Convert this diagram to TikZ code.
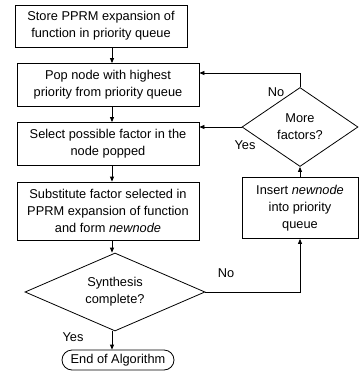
\documentclass[tikz,border=0pt]{standalone}
\usepackage{fontspec}
\setmainfont{Liberation Sans}
\usetikzlibrary{arrows.meta,shapes.geometric}
\begin{document}
\begin{tikzpicture}[x=1pt,y=-1pt,
  every node/.style={font=\fontsize{12.8}{17}\selectfont, inner sep=0pt},
  procbox/.style={draw, line width=0.8pt, rectangle, align=center},
  decbox/.style={draw, line width=0.8pt, diamond, align=center},
  termbox/.style={draw, line width=0.8pt, rectangle, rounded corners=10pt, align=center},
  arr/.style={line width=0.8pt, -{Triangle[length=5pt,width=4pt]}},
  lbl/.style={font=\fontsize{12.8}{17}\selectfont}]
\useasboundingbox (0,0) rectangle (359,372);
\node[procbox, minimum width=172pt, minimum height=42pt] (b1) at (101,26)
  {Store PPRM expansion of\\function in priority queue};
\node[procbox, minimum width=182pt, minimum height=43pt] (b2) at (108,85)
  {Pop node with highest\\priority from priority queue};
\node[procbox, minimum width=182pt, minimum height=43pt] (b3) at (108,144)
  {Select possible factor in the\\node popped};
\node[procbox, minimum width=182pt, minimum height=58pt] (b4) at (108,211)
  {Substitute factor selected in\\PPRM expansion of function\\and form \textit{newnode}};
\node[decbox, aspect=2.3, minimum width=180pt, minimum height=78pt] (syn) at (115,292)
  {Synthesis\\complete?};
\node[termbox, minimum width=112pt, minimum height=20pt] (end) at (118,360)
  {End of Algorithm};
\node[procbox, minimum width=116pt, minimum height=61pt] (ins) at (300,208)
  {Insert \textit{newnode}\\into priority\\queue};
\node[decbox, aspect=1.5, minimum width=116pt, minimum height=79pt] (mf) at (300,127)
  {More\\factors?};
\coordinate (ax) at (112,0);
\coordinate (noy) at (0,73);
\draw[arr] (b1.south -| ax) -- (b2.north -| ax);
\draw[arr] (b2.south -| ax) -- (b3.north -| ax);
\draw[arr] (b3.south -| ax) -- (b4.north -| ax);
\draw[arr] (b4.south -| ax) -- (syn.north -| ax);
\draw[arr] (syn.south -| ax) -- (end.north -| ax);
\draw[arr] (syn.east) -| (ins.south);
\draw[arr] (ins.north) -- (mf.south);
\draw[arr] (mf.north) -- (mf.north |- noy) -- (b2.east |- noy);
\draw[arr] (mf.west) -- (b3.east |- mf.west);
\node[lbl] (yes1) at (73,337) {Yes};
\node[lbl] (no1) at (226,273) {No};
\node[lbl] (no2) at (276,92) {No};
\node[lbl] (yes2) at (245,145) {Yes};
\end{tikzpicture}
\end{document}
